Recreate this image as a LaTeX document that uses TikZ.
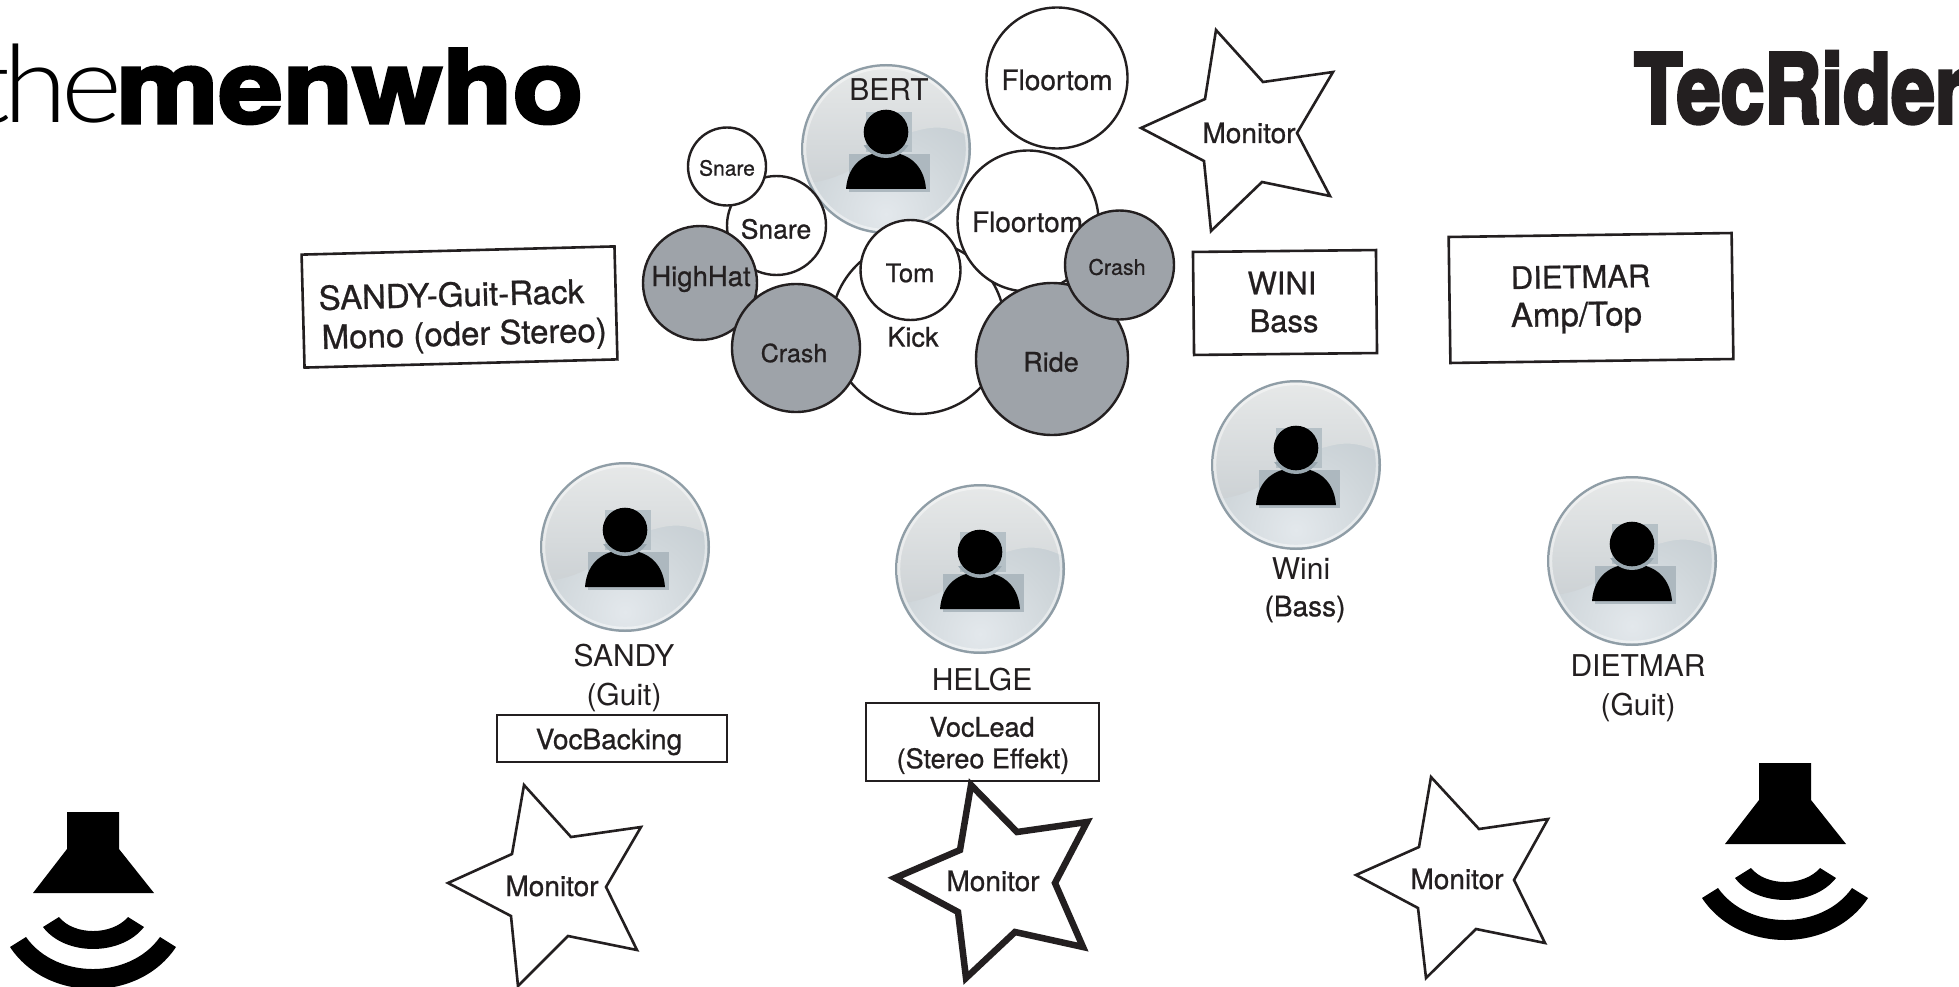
\documentclass[tikz,border=0pt]{standalone}
\usepackage{fontspec}
\setmainfont{TeX Gyre Heros}
\newfontfamily\medfont[FakeBold=0.8]{TeX Gyre Heros}
\newfontfamily\heavyfont[FakeBold=3]{TeX Gyre Heros Bold}
\newfontfamily\heavierfont[FakeBold=3.8]{TeX Gyre Heros Bold}
\newfontfamily\thinfont[LetterSpace=-6]{Lato Light}
\definecolor{ink}{HTML}{231F20}
\definecolor{drumgrey}{HTML}{9EA3A9}
\definecolor{ringc}{HTML}{8F9DA6}
\definecolor{glowa}{HTML}{E3E8EC}
\definecolor{glowb}{HTML}{CFD6DA}
\definecolor{glowc}{HTML}{BEC7CD}
\definecolor{glosstop}{HTML}{E7E9E9}
\definecolor{glossbot}{HTML}{CDD2D5}
\definecolor{headbox}{HTML}{B5C0C6}
\definecolor{bodybox}{HTML}{ADB8BF}
\definecolor{headring}{HTML}{9AA8B0}
\pgfdeclareradialshading{faceglow}{\pgfpointorigin}{color(0bp)=(glowa);color(13bp)=(glowb);color(26bp)=(glowc);color(50bp)=(glowc)}
\tikzset{
 txt/.style={font=\fontsize{#1}{#1}\medfont,text=ink,inner sep=0pt,outer sep=0pt},
 ptxt/.style={font=\fontsize{#1}{#1}\selectfont,text=ink,inner sep=0pt,outer sep=0pt},
 drumw/.style={circle,draw=ink,line width=2.4pt,fill=white,inner sep=0pt,minimum size=#1},
 drumg/.style={circle,draw=ink,line width=2.4pt,fill=drumgrey,inner sep=0pt,minimum size=#1},
 starline/.style={draw=ink,line width=2.6pt,line join=miter,fill=white},
 boxline/.style={draw=ink,line width=2.6pt,fill=white,inner sep=0pt,outer sep=0pt}
}
\newcommand{\persona}[3]{%
 \coordinate (#1) at (#2,#3);
 \begin{scope}[shift={(#2,#3)}]
  \fill[ringc] (0,0) circle (85);
  \begin{scope}
   \clip (0,0) circle (82.5);
   \shade[shading=faceglow] (0,65) circle (150);
   \shade[top color=glosstop,bottom color=glossbot] (-85,34) .. controls (-30,34) and (0,-12) .. (30,-18) .. controls (50,-24) and (65,-22) .. (85,-12) -- (85,-85) -- (-85,-85) -- cycle;
   \draw[white,opacity=.45,line width=2.4pt] (0,0) circle (81);
  \end{scope}
  \fill[headbox] (-20,-37) rectangle (26,3);
  \fill[bodybox] (-37,5) rectangle (44,43);
  \fill[black] (-40,40) .. controls (-38,14) and (-20,3) .. (0,3) .. controls (20,3) and (38,14) .. (40,40) -- cycle;
  \begin{scope}
   \clip (-24,-3) rectangle (26,12);
   \fill[headring] (0,-17) circle (26);
  \end{scope}
  \fill[black] (0,-17) circle (22.3);
 \end{scope}}
\newcommand{\speaker}[2]{%
 \fill[black] ({#1-26},#2) -- ({#1+26},#2) -- ({#1+26},{#2+37}) -- ({#1+61},{#2+81}) -- ({#1-60},{#2+81}) -- ({#1-26},{#2+37}) -- cycle;
 \fill[black] ({#1-34},{#2+105}) .. controls ({#1-19},{#2+123.7}) and ({#1+19},{#2+123.7}) .. ({#1+35},{#2+105})
   -- ({#1+51},{#2+115}) .. controls ({#1+28},{#2+144.3}) and ({#1-28},{#2+144.3}) .. ({#1-50},{#2+115}) -- cycle;
 \fill[black] ({#1-67},{#2+125}) .. controls ({#1-37},{#2+167.7}) and ({#1+37},{#2+167.7}) .. ({#1+67},{#2+125})
   -- ({#1+83},{#2+135}) .. controls ({#1+46},{#2+191}) and ({#1-46},{#2+191}) .. ({#1-83},{#2+135}) -- cycle;}
\begin{document}
\begin{tikzpicture}[x=1pt,y=-1pt]
\clip (0,0) rectangle (1959,987);
\fill[white] (0,0) rectangle (1959,987);
% logos
\node[anchor=base east,inner sep=0pt,text=black] (logothe) at (122,123) {\scalebox{1.08}[1]{\fontsize{108}{108}\thinfont the}};
\node[anchor=base west,inner sep=0pt,text=black] (logomen) at (116,123) {\scalebox{1.13}[1]{\fontsize{102}{102}\heavyfont menwho}};
\node[anchor=base west,inner sep=0pt,text=ink] (logotec) at (1634,123) {\scalebox{.82}[1]{\fontsize{96}{96}\heavierfont TecRider}};
% drum kit
\node[drumw=141pt] (ftomtop) at (1057,78) {};
\node[txt=28] (ftomtopt) at (1057,80) {Floortom};
\persona{bert}{886}{149}
\node[ptxt=30] (bertt) at (889,90) {BERT};
\node[drumw=99pt] (snarebig) at (776.5,225.5) {};
\node[txt=26.5] (snarebigt) at (776,229) {Snare};
\node[drumw=78pt] (snaresmall) at (727,166.5) {};
\node[txt=21] (snaresmallt) at (727,168) {Snare};
\node[drumw=174pt] (kick) at (918,327) {};
\node[txt=27] (kickt) at (913,337) {Kick};
\node[drumw=141pt] (ftommid) at (1028,221) {};
\node[txt=28] (ftommidt) at (1027.5,222) {Floortom};
\node[drumw=100pt] (tom) at (910.5,270) {};
\node[txt=25.5] (tomt) at (910,273) {Tom};
\node[drumg=114pt] (hihat) at (700,283) {};
\node[txt=27.5] (hihatt) at (701,279) {HighHat};
\node[drumg=128pt] (crashl) at (796,348) {};
\node[txt=25] (crashlt) at (794,353) {Crash};
\node[drumg=152pt] (ride) at (1052,359) {};
\node[txt=27] (ridet) at (1051,362) {Ride};
\node[drumg=109pt] (crashr) at (1119.5,265) {};
\node[txt=21.5] (crashrt) at (1117,267) {Crash};
% stars
\draw[starline] (1216,30)--(1263,82)--(1333,72)--(1297,133)--(1330,196)--(1262,182)--(1211,231)--(1204,161)--(1141,128)--(1205,99)--cycle;
\node[txt=28] (montop) at (1249,133) {Monitor};
\draw[starline] (524,785)--(571,837)--(641,827)--(606,887)--(637,950)--(568,936)--(518,986)--(511,916)--(448,883)--(512,854)--cycle;
\node[txt=28] (monleft) at (552,886) {Monitor};
\draw[starline] (1431,777)--(1479,829)--(1548,819)--(1514,880)--(1545,943)--(1476,929)--(1426,978)--(1418,908)--(1356,875)--(1419,847)--cycle;
\node[txt=28] (monright) at (1457,879) {Monitor};
% boxes
\node[boxline,rotate=1.5,minimum width=313pt,minimum height=113pt] (sandybox) at (459.5,307) {};
\node[txt=33,rotate=1.5,anchor=base west] (sandyl) at (319,310) {SANDY-Guit-Rack};
\node[txt=33,rotate=1.5,anchor=base west] (sandym) at (322,349) {Mono (oder Stereo)};
\node[boxline,rotate=.6,minimum width=183pt,minimum height=103pt] (winibox) at (1285,302.5) {};
\node[txt=31] (winia) at (1282,283) {WINI};
\node[txt=31] (winib) at (1284,321) {Bass};
\node[boxline,rotate=.8,minimum width=283pt,minimum height=126pt] (dietbox) at (1591,298) {};
\node[txt=31,rotate=.8,anchor=base west] (dieta) at (1511,289) {DIETMAR};
\node[txt=33,rotate=.8,anchor=base west] (dietb) at (1511,327) {Amp/Top};
% musicians
\persona{sandy}{625}{547}
\persona{helge}{980}{569}
\persona{wini}{1296}{465}
\persona{dietmar}{1632}{561}
\node[ptxt=30] (sandyt) at (624,656) {SANDY};
\node[ptxt=30] (sandyg) at (624,697) {(Guit)};
\node[ptxt=30] (helget) at (982,680) {HELGE};
\node[ptxt=30] (winit) at (1301,569) {Wini};
\node[txt=28] (winig) at (1305,609) {(Bass)};
\node[ptxt=30] (diett) at (1638,666) {DIETMAR};
\node[ptxt=30] (dietg) at (1638,707) {(Guit)};
\node[boxline,minimum width=230pt,minimum height=47pt] (vocb) at (612,738.5) {};
\node[txt=28] (vocbt) at (609,742) {VocBacking};
\node[boxline,minimum width=233pt,minimum height=78pt] (vocl) at (982.5,742) {};
\node[txt=27] (vocla) at (982,727) {VocLead};
\node[txt=27] (voclb) at (983,761) {(Stereo Effekt)};
% lead monitor
\draw[starline,line width=6.5pt,fill=white] (971,785)--(1017,832)--(1087,822)--(1055,883)--(1083,947)--(1015,932)--(966,978)--(958,912)--(895,878)--(960,850)--cycle;
\node[txt=28] (monlead) at (993,881) {Monitor};
% speakers
\speaker{93}{812}
\speaker{1785}{763}
\end{tikzpicture}
\end{document}
